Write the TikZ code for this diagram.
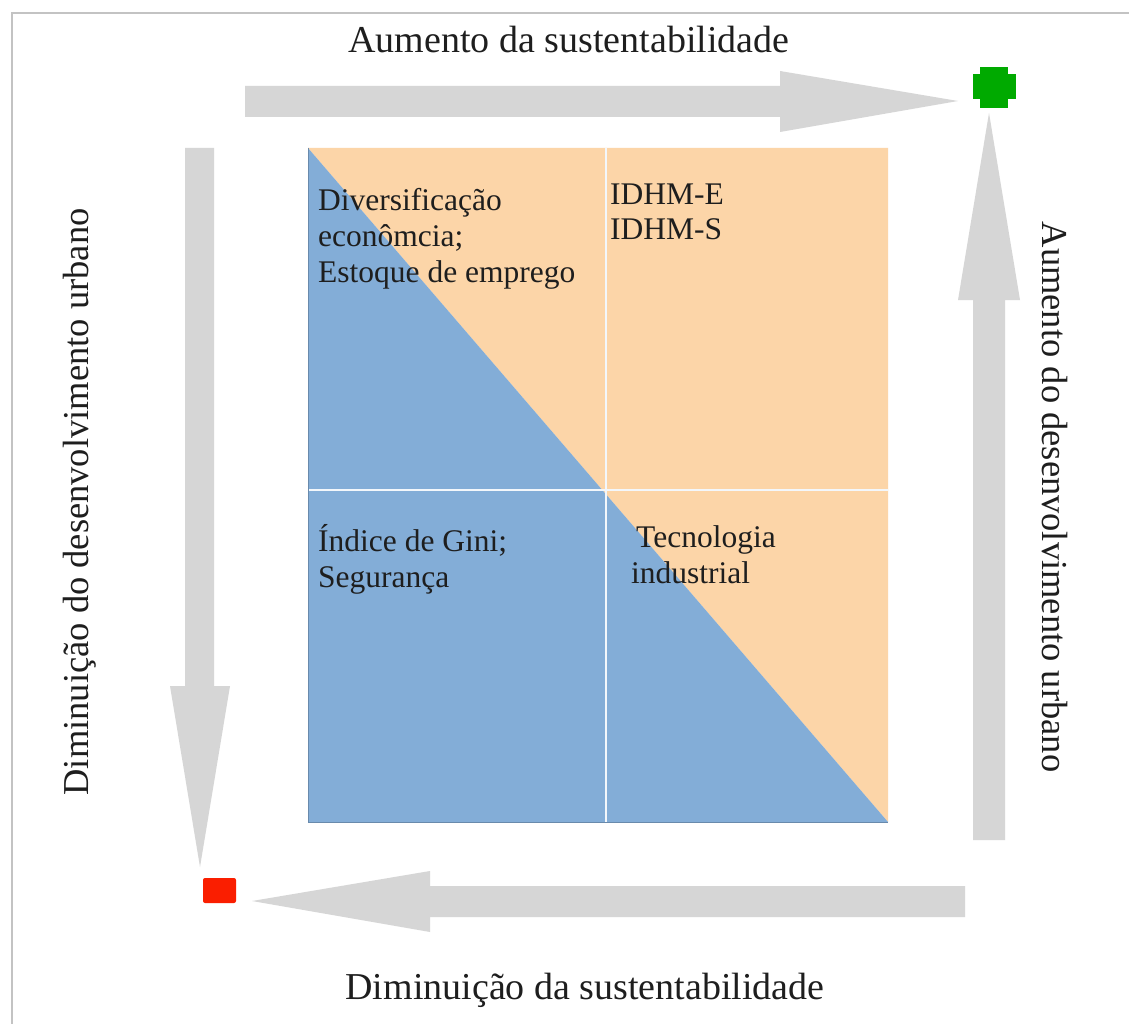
\documentclass[tikz,border=0pt]{standalone}
\usepackage{fontspec}
\setmainfont{Liberation Serif}
\definecolor{peach}{RGB}{252,213,168}
\definecolor{qblue}{RGB}{131,173,215}
\definecolor{arrgray}{RGB}{214,214,214}
\definecolor{framegray}{RGB}{195,195,195}
\definecolor{plusgreen}{RGB}{0,170,0}
\definecolor{minusred}{RGB}{250,30,0}
\definecolor{txt}{RGB}{30,30,30}
\begin{document}
\begin{tikzpicture}[x=1pt,y=-1pt,
  axislabel/.style={font=\fontsize{38}{42}\selectfont, text=txt, inner sep=0pt},
  vaxislabel/.style={font=\fontsize{36.5}{42}\selectfont, text=txt, inner sep=0pt},
  quadtext/.style={font=\fontsize{31.5}{35.5}\selectfont, text=txt, align=left, inner sep=0pt, anchor=base west},
  bigarrow/.style={fill=arrgray, draw=none}]
\useasboundingbox (0,0) rectangle (1129,1024);
\fill[white] (0,0) rectangle (1129,1024);
% frame
\draw[framegray, line width=2pt] (12,1024) -- (12,13) -- (1129,13);

% quadrant square
\coordinate (sqTL) at (308,148);
\coordinate (sqTR) at (888,148);
\coordinate (sqBL) at (308,822);
\coordinate (sqBR) at (888,822);
\fill[peach] (sqTL) -- (sqTR) -- (sqBR) -- cycle;
\fill[qblue] (sqTL) -- (sqBR) -- (sqBL) -- cycle;
\draw[white!90!qblue, line width=1.8pt] (606,148) -- (606,822);
\draw[white!90!qblue, line width=1.8pt] (308,490) -- (888,490);
\draw[qblue!80!black, line width=1pt] (sqTL) -- (sqBL) -- (sqBR);

% quadrant texts (anchor = baseline of last line)
\node[quadtext] (q1) at (318,282) {Diversificação\\econômcia;\\Estoque de emprego};
\node[quadtext] (q2) at (610,240) {IDHM-E\\IDHM-S};
\node[quadtext] (q3) at (318,587) {Índice de Gini;\\Segurança};
\node[quadtext] (q4) at (631,583) {\hspace{5pt}Tecnologia\\industrial};

% markers
\node[fill=plusgreen, minimum width=43pt, minimum height=25pt, inner sep=0pt] (plus) at (994,87) {};
\fill[plusgreen] (980,67) rectangle (1008,108);
\node[fill=minusred, rounded corners=2pt, minimum width=33pt, minimum height=25pt, inner sep=0pt] (minus) at (219.5,890.5) {};

% arrows
\fill[bigarrow] (245,86) -- (780,86) -- (780,71) -- (958,101) -- (780,132) -- (780,117) -- (245,117) -- cycle;
\fill[bigarrow] (973,840) -- (973,300) -- (958,300) -- (989,113) -- (1020,300) -- (1005,300) -- (1005,840) -- cycle;
\fill[bigarrow] (965,886) -- (430,886) -- (430,871) -- (252,901) -- (430,932) -- (430,917) -- (965,917) -- cycle;
\fill[bigarrow] (185,148) -- (185,686) -- (170,686) -- (200,867) -- (230,686) -- (214,686) -- (214,148) -- cycle;

% axis labels
\node[axislabel] (top) at (569,40) {Aumento da sustentabilidade};
\node[axislabel] (bottom) at (585,990) {Diminuição da sustentabilidade};
\node[vaxislabel, rotate=90] (left) at (80,502) {Diminuição do desenvolvimento urbano};
\node[vaxislabel, rotate=-90] (right) at (1055,497) {Aumento do desenvolvimento urbano};
\end{tikzpicture}
\end{document}
